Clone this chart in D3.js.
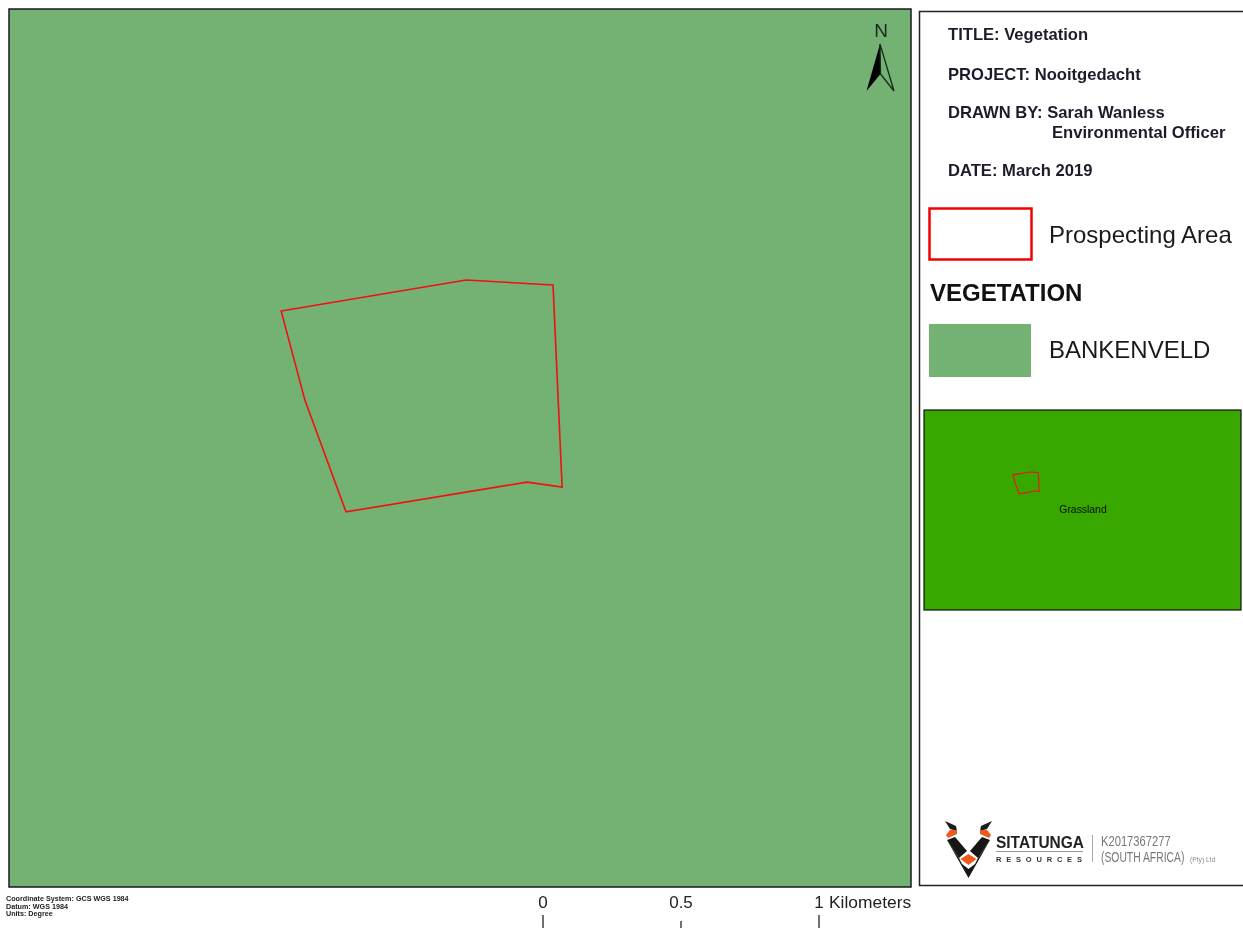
<!DOCTYPE html>
<head>
  <meta charset="utf-8">
  <script src="https://d3js.org/d3.v7.min.js"></script>
  <style>
    body { margin:0;position:fixed;top:0;right:0;bottom:0;left:0;background:#fff; }
    text { font-family:"Liberation Sans",Arial,sans-serif; }
  </style>
</head>

<body>
  <script>

    var width = 1243,
        height = 928;

    // prospecting boundary, km from the top left corner of the map
    var boundaryX = [0.986, 1.656, 1.971, 2.004, 1.877, 1.221, 1.072];
    var boundaryY = [1.094, 0.982, 1.000, 1.732, 1.714, 1.822, 1.417];
    var boundary = d3.range(boundaryX.length).map(function(i) { return [boundaryX[i], boundaryY[i]] });

    var scaleTicks = [0, 0.5, 1];
    var infoLines = ["TITLE: Vegetation", "PROJECT: Nooitgedacht", "DRAWN BY: Sarah Wanless", "Environmental Officer", "DATE: March 2019"];
    var infoLeft = [948, 948, 948, 1052, 948];
    var infoTop = [40, 80, 118, 138, 176];
    var coordLines = ["Coordinate System: GCS WGS 1984", "Datum: WGS 1984", "Units: Degree"];

    var svg = d3.select("body").append("svg")
      .attr("width", width)
      .attr("height", height)
      .style("display", "block");

    var defs = svg.append("defs");
    defs.append("filter").attr("id", "soft")
      .append("feGaussianBlur").attr("stdDeviation", 0.45);

    // main map
    var x = d3.scaleLinear().domain([0, 3.268]).range([9, 911]);
    var y = d3.scaleLinear().domain([0, 3.181]).range([9, 887]);
    var line = d3.line()
      .x(function(d) { return x(d[0]) })
      .y(function(d) { return y(d[1]) })
      .curve(d3.curveLinearClosed);

    svg.append("rect")
      .attr("x", 9).attr("y", 9).attr("width", 902).attr("height", 878)
      .attr("fill", "#74b274").attr("stroke", "#1a1a1a").attr("stroke-width", 1.5);

    svg.append("path")
      .attr("d", line(boundary))
      .attr("fill", "none").attr("stroke", "#f01010").attr("stroke-width", 1.6);

    // north arrow
    svg.append("text").attr("x", 881).attr("y", 37).attr("text-anchor", "middle")
      .attr("font-size", 19).attr("fill", "#1a2a1a").text("N");
    svg.append("path").attr("d", "M880,44L866.5,91L880.5,74Z").attr("fill", "#000");
    svg.append("path").attr("d", "M880,44L894,91L880.5,74Z").attr("fill", "none").attr("stroke", "#1a2a1a").attr("stroke-width", 1.3);

    // side panel
    svg.append("rect")
      .attr("x", 919.5).attr("y", 11.5).attr("width", 340).attr("height", 874)
      .attr("fill", "#fff").attr("stroke", "#222").attr("stroke-width", 1.5);

    svg.selectAll("text.info").data(infoLines).enter()
      .append("text")
      .attr("class", "info")
      .attr("x", function(d, i) { return infoLeft[i] })
      .attr("y", function(d, i) { return infoTop[i] })
      .attr("font-size", 16.6).attr("font-weight", "bold").attr("fill", "#1c1c2a")
      .text(function(d) { return d });

    // legend
    svg.append("rect").attr("x", 929.5).attr("y", 208.5).attr("width", 102).attr("height", 51)
      .attr("fill", "#fff").attr("stroke", "#f00000").attr("stroke-width", 2.5);
    svg.append("text").attr("x", 1049).attr("y", 243).attr("font-size", 24).attr("fill", "#1a1a1a").text("Prospecting Area");
    svg.append("text").attr("x", 930).attr("y", 301).attr("font-size", 24).attr("font-weight", "bold").attr("fill", "#111").text("VEGETATION");
    svg.append("rect").attr("x", 929).attr("y", 324).attr("width", 102).attr("height", 53).attr("fill", "#74b274");
    svg.append("text").attr("x", 1049).attr("y", 358).attr("font-size", 24).attr("fill", "#1a1a1a").text("BANKENVELD");

    // inset map, same boundary at a smaller scale
    var insetX = d3.scaleLinear().domain([-2.477, 9.857]).range([924, 1241]);
    var insetY = d3.scaleLinear().domain([-1.403, 6.29]).range([410, 610]);
    var insetLine = d3.line()
      .x(function(d) { return insetX(d[0]) })
      .y(function(d) { return insetY(d[1]) })
      .curve(d3.curveLinearClosed);

    svg.append("rect").attr("x", 924).attr("y", 410).attr("width", 317).attr("height", 200)
      .attr("fill", "#38a800").attr("stroke", "#111").attr("stroke-width", 1.2);
    svg.append("path").attr("d", insetLine(boundary))
      .attr("fill", "none").attr("stroke", "#f01010").attr("stroke-width", 1.1);
    svg.append("text").attr("x", 1083).attr("y", 513).attr("text-anchor", "middle")
      .attr("font-size", 10.4).attr("fill", "#0a0a0a").text("Grassland");

    // logo
    var logo = svg.append("g").attr("filter", "url(#soft)");
    logo.append("path").attr("d", "M945,821L956,826L957,831L950,829Z M992,821L981,826L980,831L987,829Z").attr("fill", "#1a1a1a");
    logo.append("path").attr("d", "M950,830L957,830L957,834L948,838L946,835Z M987,830L980,830L980,834L989,838L991,835Z").attr("fill", "#ee5a1e");
    logo.append("path").attr("d", "M947,840L955,837L967,851L959,858Z M990,840L982,837L970,851L978,858Z").attr("fill", "#161616");
    logo.append("path").attr("d", "M947,840L959,858L962,864L968.5,869L975,864L978,858L990,840L968.5,878Z").attr("fill", "#161616");
    logo.append("path").attr("d", "M960.5,859L968.5,854L976.5,859L968.5,865Z").attr("fill", "#ee5a1e");

    // squeezed text, no narrow font available
    function squeezed(g, str, tx, ty, sx, size, color, weight) {
      return g.append("text")
        .attr("transform", "translate(" + tx + "," + ty + ") scale(" + sx + ",1)")
        .attr("font-size", size).attr("font-weight", weight).attr("fill", color).text(str);
    }

    var brand = svg.append("g").attr("filter", "url(#soft)");
    squeezed(brand, "SITATUNGA", 996, 848, 0.91, 17, "#222", "bold");
    brand.append("rect").attr("x", 996).attr("y", 851).attr("width", 87).attr("height", 1).attr("fill", "#999");
    brand.append("text").attr("x", 996).attr("y", 862).attr("font-size", 7.5).attr("font-weight", "bold")
      .attr("fill", "#333").attr("letter-spacing", 4.8).text("RESOURCES");
    brand.append("rect").attr("x", 1092).attr("y", 835).attr("width", 1).attr("height", 27).attr("fill", "#aaa");
    squeezed(brand, "K2017367277", 1101, 846, 0.8, 14, "#777", "normal");
    squeezed(brand, "(SOUTH AFRICA)", 1101, 862, 0.74, 14, "#777", "normal");
    squeezed(brand, "(Pty) Ltd", 1190, 862, 0.9, 7.5, "#888", "normal");

    // coordinate note
    svg.selectAll("text.coord").data(coordLines).enter()
      .append("text")
      .attr("class", "coord")
      .attr("x", 6)
      .attr("y", function(d, i) { return 901 + i * 7.6 })
      .attr("font-size", 7.2).attr("font-weight", "bold").attr("fill", "#222")
      .text(function(d) { return d });

    // scale bar
    var scaleBar = d3.scaleLinear().domain([0, 1]).range([542.5, 818.5]);
    var barAxis = d3.axisTop(scaleBar)
      .tickValues(scaleTicks)
      .tickFormat(function(d) { return d })
      .tickSize(0);

    var bar = svg.append("g").attr("transform", "translate(0,930)").call(barAxis);
    bar.select(".domain").remove();
    bar.selectAll(".tick line")
      .attr("y2", function(d) { return d == 0.5 ? -9 : -15 })
      .attr("stroke", "#222").attr("stroke-width", 1.3);
    bar.selectAll(".tick text")
      .attr("y", -22.5).attr("dy", 0)
      .attr("font-family", "Liberation Sans").attr("font-size", 17).attr("fill", "#222");
    svg.append("text").attr("x", 829).attr("y", 907.5).attr("font-size", 17.4).attr("fill", "#222").text("Kilometers");

  </script>
</body>
